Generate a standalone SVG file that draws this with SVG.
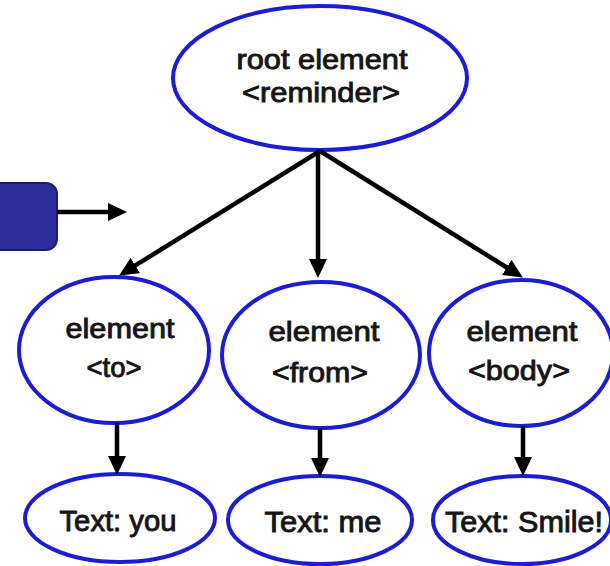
<svg xmlns="http://www.w3.org/2000/svg" width="610" height="566" viewBox="0 0 610 566">
  <defs>
    <marker id="ah" markerUnits="userSpaceOnUse" markerWidth="20" markerHeight="18" refX="8" refY="9" orient="auto">
      <path d="M0,0 L19,9 L0,18 z" fill="#000"/>
    </marker>
    <style>
      .node ellipse { fill: #fff; stroke: #1c1cd2; stroke-width: 4; }
      .node text { font-family: "Liberation Sans", Arial, sans-serif; font-size: 28px; fill: #151515; stroke: #151515; stroke-width: 0.9; text-anchor: middle; }
      .node text.big { font-size: 29px; }
      .conn line { stroke: #000; stroke-width: 4.5; marker-end: url(#ah); }
    </style>
  </defs>
  <rect width="610" height="566" fill="#fff"/>

  <g id="side-box">
    <rect x="-12" y="183" width="69" height="67" rx="11" fill="#2e2b9c" stroke="#1d1b6e" stroke-width="2"/>
  </g>

  <g id="root" class="node">
    <ellipse cx="320" cy="78" rx="147" ry="72"/>
    <text x="322" y="69" textLength="171" lengthAdjust="spacingAndGlyphs">root element</text>
    <text x="321" y="102" textLength="158" lengthAdjust="spacingAndGlyphs">&lt;reminder&gt;</text>
  </g>

  <g id="el-to" class="node">
    <ellipse cx="114" cy="350" rx="95" ry="73"/>
    <text x="120" y="338" textLength="109" lengthAdjust="spacingAndGlyphs">element</text>
    <text x="114" y="377" textLength="55" lengthAdjust="spacingAndGlyphs">&lt;to&gt;</text>
  </g>

  <g id="el-from" class="node">
    <ellipse cx="321" cy="355" rx="99" ry="73"/>
    <text x="324" y="341" textLength="111" lengthAdjust="spacingAndGlyphs">element</text>
    <text x="320" y="382" textLength="96" lengthAdjust="spacingAndGlyphs">&lt;from&gt;</text>
  </g>

  <g id="el-body" class="node">
    <ellipse cx="521" cy="353" rx="92" ry="73"/>
    <text x="522" y="341" textLength="111" lengthAdjust="spacingAndGlyphs">element</text>
    <text x="519" y="380" textLength="102" lengthAdjust="spacingAndGlyphs">&lt;body&gt;</text>
  </g>

  <g id="text-you" class="node">
    <ellipse cx="120" cy="518" rx="95" ry="44"/>
    <text class="big" x="118" y="531" textLength="117" lengthAdjust="spacingAndGlyphs">Text: you</text>
  </g>

  <g id="text-me" class="node">
    <ellipse cx="320" cy="520" rx="92" ry="44"/>
    <text class="big" x="323" y="532" textLength="117" lengthAdjust="spacingAndGlyphs">Text: me</text>
  </g>

  <g id="text-smile" class="node">
    <ellipse cx="522" cy="520" rx="89" ry="44"/>
    <text class="big" x="524" y="532" textLength="158" lengthAdjust="spacingAndGlyphs">Text: Smile!</text>
  </g>

  <g id="connectors" class="conn">
    <line x1="320" y1="151" x2="128.5" y2="269.7"/>
    <line x1="318" y1="151" x2="318" y2="267"/>
    <line x1="320" y1="151" x2="513.5" y2="271.7"/>
    <line x1="117" y1="423" x2="117" y2="464"/>
    <line x1="320" y1="428" x2="320" y2="466"/>
    <line x1="523" y1="426" x2="523" y2="465"/>
    <line x1="57" y1="212" x2="116" y2="212"/>
  </g>
</svg>
